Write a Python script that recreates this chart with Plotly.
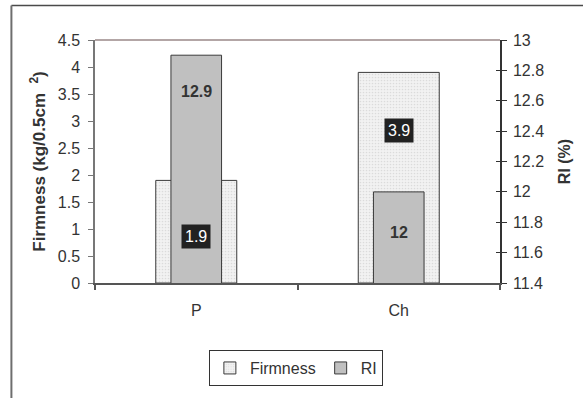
import plotly.graph_objects as go

# Fruit firmness (left axis) and refractive index (right axis) per treatment
categories = ["P", "Ch"]
firmness = [1.9, 3.9]
ri = [12.9, 12.0]

firm_ticks = [0, 0.5, 1, 1.5, 2, 2.5, 3, 3.5, 4, 4.5]
ri_ticks = [11.4, 11.6, 11.8, 12.0, 12.2, 12.4, 12.6, 12.8, 13.0]

# vertical placement of the value labels inside the bars (axis units)
firm_label_y = [0.87, 2.82]
ri_label_y = [12.66, 11.73]

FONT = "Liberation Sans, Arial, sans-serif"
TXT = "#333333"

fig = go.Figure()

fig.add_trace(go.Bar(
    x=categories, y=firmness, name="Firmness", width=0.40,
    marker=dict(color="#ececec",
                pattern=dict(shape=".", size=3, solidity=0.25,
                             fgcolor="#c4c4c4", bgcolor="#f2f2f2"),
                line=dict(color="#3a3a3a", width=1)),
    yaxis="y",
))
fig.add_trace(go.Bar(
    x=categories, y=ri, name="RI", width=0.25,
    marker=dict(color="#c0c0c0", line=dict(color="#3a3a3a", width=1)),
    yaxis="y2",
))
# carrier for the inner half of the right-axis ticks
fig.add_trace(go.Scatter(x=[], y=[], yaxis="y3", showlegend=False,
                         hoverinfo="skip"))

annotations = []
for c, v, yp in zip(categories, firmness, firm_label_y):
    annotations.append(dict(
        x=c, y=yp, xref="x", yref="y", text=f"{v:g}", showarrow=False,
        font=dict(family=FONT, size=16, color="white"),
        bgcolor="#222222", borderpad=3))
for c, v, yp in zip(categories, ri, ri_label_y):
    annotations.append(dict(
        x=c, y=yp, xref="x", yref="y2", text=f"<b>{v:g}</b>", showarrow=False,
        font=dict(family=FONT, size=16, color=TXT)))

shapes = [
    # outer chart frame (top and left edges)
    dict(type="line", xref="paper", yref="paper", x0=-0.2064, x1=1.25,
         y0=1.1417, y1=1.1417, line=dict(color="#4a4a4a", width=1.5)),
    dict(type="line", xref="paper", yref="paper", x0=-0.2064, x1=-0.2064,
         y0=1.1417, y1=-0.5, line=dict(color="#6e6e6e", width=2)),
    # plot-area top edge
    dict(type="line", xref="paper", yref="paper", x0=0, x1=1, y0=1, y1=1,
         line=dict(color="#9a8888", width=1.5)),
]

fig.update_layout(
    width=583, height=398,
    margin=dict(l=95, r=81, t=40, b=111),
    paper_bgcolor="white", plot_bgcolor="white",
    barmode="overlay",
    font=dict(family=FONT, size=16, color=TXT),
    xaxis=dict(type="category", range=[-0.5, 1.5], tickson="boundaries",
               ticks="outside", ticklen=5, tickcolor="#555555", tickwidth=1.5,
               showline=True, linecolor="#555555", linewidth=2,
               showgrid=False, zeroline=False, ticklabelstandoff=12,
               tickfont=dict(size=16, color=TXT)),
    yaxis=dict(range=[firm_ticks[0], firm_ticks[-1]], tickvals=firm_ticks,
               ticktext=[f"{t:g}" for t in firm_ticks],
               ticks="outside", ticklen=5, tickcolor="#777777", tickwidth=1,
               showline=True, linecolor="#777777", linewidth=1.5,
               showgrid=False, zeroline=False, ticklabelstandoff=5,
               tickfont=dict(size=16, color=TXT),
               title=dict(text="<b>Firmness (kg/0.5cm  <sup>2</sup>)</b>",
                          font=dict(size=17, color=TXT), standoff=8)),
    yaxis2=dict(range=[ri_ticks[0], ri_ticks[-1]], tickvals=ri_ticks,
                ticktext=[f"{t:g}" for t in ri_ticks],
                overlaying="y", side="right", anchor="x",
                ticks="outside", ticklen=5, tickcolor="#333333", tickwidth=1,
                showline=True, linecolor="#333333", linewidth=1.5,
                showgrid=False, zeroline=False, ticklabelstandoff=3,
                tickfont=dict(size=16, color=TXT),
                title=dict(text="<b>RI (%)</b>",
                           font=dict(size=16, color=TXT), standoff=16)),
    yaxis3=dict(range=[ri_ticks[0], ri_ticks[-1]], tickvals=ri_ticks,
                overlaying="y", side="right", anchor="x",
                ticks="inside", ticklen=4, tickcolor="#333333", tickwidth=1,
                showticklabels=False, showline=False, showgrid=False,
                zeroline=False),
    legend=dict(orientation="h", x=0.496, xanchor="center",
                y=-0.35, yanchor="middle",
                bordercolor="#333333", borderwidth=1, bgcolor="white",
                font=dict(size=16, color=TXT), itemwidth=30,
                traceorder="normal"),
    annotations=annotations,
    shapes=shapes,
)

fig.write_html("out.html")
